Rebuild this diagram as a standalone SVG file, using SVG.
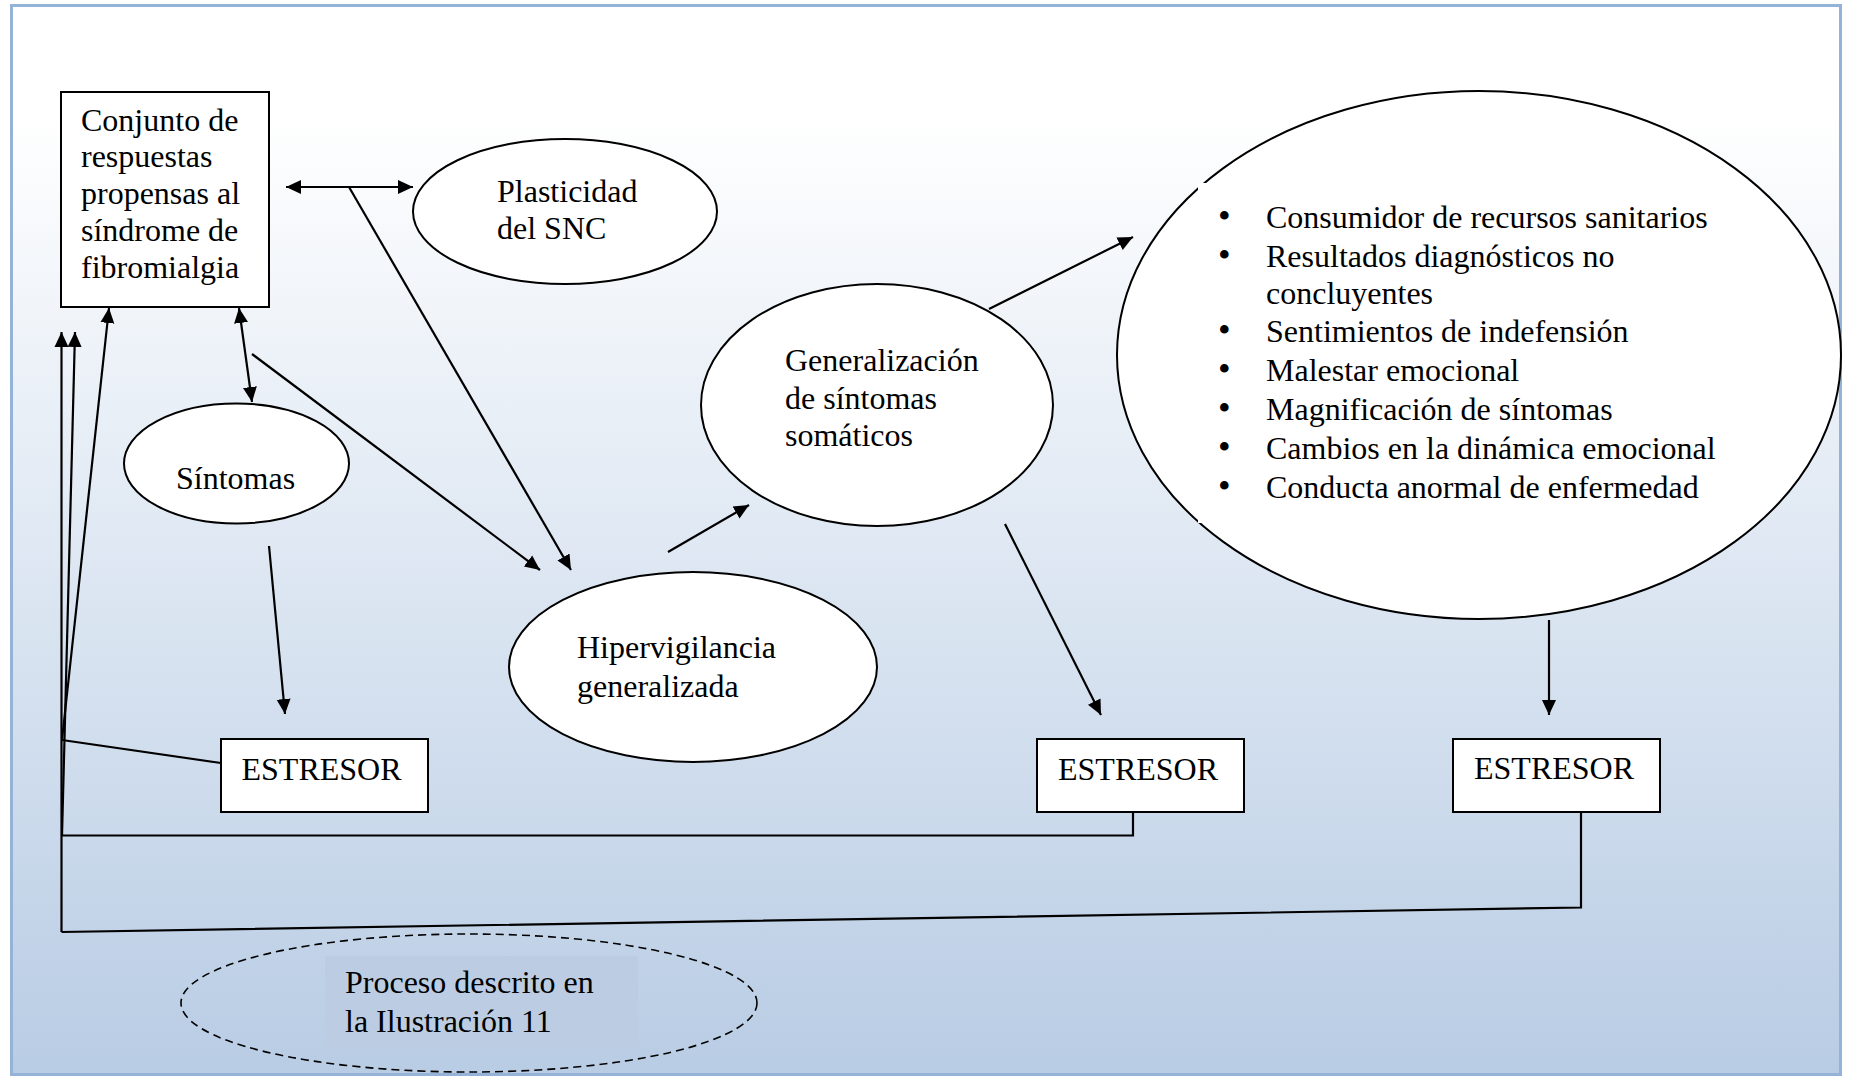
<svg xmlns="http://www.w3.org/2000/svg" width="1861" height="1076" viewBox="0 0 1861 1076">
  <defs>
    <linearGradient id="bg" x1="0" y1="6" x2="0" y2="1076" gradientUnits="userSpaceOnUse">
      <stop offset="0" stop-color="#ffffff"/>
      <stop offset="0.1" stop-color="#ffffff"/>
      <stop offset="1" stop-color="#b8cce4"/>
    </linearGradient>
    <marker id="arrow" markerUnits="userSpaceOnUse" markerWidth="16" markerHeight="16" refX="15" refY="7" orient="auto-start-reverse" viewBox="0 0 16 14">
      <path d="M0,0 L15,7 L0,14 Z" fill="#000"/>
    </marker>
  </defs>
  <style>
    .txt { font-family: "Liberation Serif", "Times New Roman", serif; font-size: 32px; fill: #000; }
    .bul { font-size: 36px; }
    .node { fill: #ffffff; stroke: #000; stroke-width: 2; }
    .link { fill: none; stroke: #000; stroke-width: 2.2; }
    .arr { marker-end: url(#arrow); }
    .both { marker-start: url(#arrow); marker-end: url(#arrow); }
  </style>

  <!-- page frame with gradient fill -->
  <rect x="11.5" y="5.5" width="1829" height="1069" fill="url(#bg)" stroke="#95b3d7" stroke-width="3"/>

  <!-- main response box -->
  <g id="respuestas">
    <rect class="node" x="61" y="92" width="208" height="215"/>
    <text class="txt" x="81" y="131">Conjunto de</text>
    <text class="txt" x="81" y="167">respuestas</text>
    <text class="txt" x="81" y="204">propensas al</text>
    <text class="txt" x="81" y="241">síndrome de</text>
    <text class="txt" x="81" y="278">fibromialgia</text>
  </g>

  <g id="plasticidad">
    <ellipse class="node" cx="565" cy="211.5" rx="152" ry="72.5"/>
    <text class="txt" x="497" y="202">Plasticidad</text>
    <text class="txt" x="497" y="239">del SNC</text>
  </g>

  <g id="sintomas">
    <ellipse class="node" cx="236.5" cy="463.5" rx="112.5" ry="60"/>
    <text class="txt" x="176" y="489">Síntomas</text>
  </g>

  <g id="hipervigilancia">
    <ellipse class="node" cx="693" cy="667" rx="184" ry="95"/>
    <text class="txt" x="577" y="658">Hipervigilancia</text>
    <text class="txt" x="577" y="697">generalizada</text>
  </g>

  <g id="generalizacion">
    <ellipse class="node" cx="877" cy="405" rx="176" ry="121"/>
    <text class="txt" x="785" y="371">Generalización</text>
    <text class="txt" x="785" y="409">de síntomas</text>
    <text class="txt" x="785" y="446">somáticos</text>
  </g>

  <g id="consecuencias">
    <ellipse class="node" cx="1479" cy="355" rx="362" ry="264"/>
    <!-- text frame laid over the ellipse -->
    <rect x="1198" y="183" width="540" height="340" fill="#ffffff"/>
    <text class="txt" y="228"><tspan class="bul" x="1218">•</tspan><tspan x="1266">Consumidor de recursos sanitarios</tspan></text>
    <text class="txt" y="267"><tspan class="bul" x="1218">•</tspan><tspan x="1266">Resultados diagnósticos no</tspan></text>
    <text class="txt" x="1266" y="304">concluyentes</text>
    <text class="txt" y="342"><tspan class="bul" x="1218">•</tspan><tspan x="1266">Sentimientos de indefensión</tspan></text>
    <text class="txt" y="381"><tspan class="bul" x="1218">•</tspan><tspan x="1266">Malestar emocional</tspan></text>
    <text class="txt" y="420"><tspan class="bul" x="1218">•</tspan><tspan x="1266">Magnificación de síntomas</tspan></text>
    <text class="txt" y="459"><tspan class="bul" x="1218">•</tspan><tspan x="1266">Cambios en la dinámica emocional</tspan></text>
    <text class="txt" y="498"><tspan class="bul" x="1218">•</tspan><tspan x="1266">Conducta anormal de enfermedad</tspan></text>
  </g>

  <g id="estresor-1">
    <rect class="node" x="221" y="739" width="207" height="73"/>
    <text class="txt" x="241.5" y="780">ESTRESOR</text>
  </g>
  <g id="estresor-2">
    <rect class="node" x="1037" y="739" width="207" height="73"/>
    <text class="txt" x="1058" y="780">ESTRESOR</text>
  </g>
  <g id="estresor-3">
    <rect class="node" x="1453" y="739" width="207" height="73"/>
    <text class="txt" x="1474" y="779">ESTRESOR</text>
  </g>

  <g id="proceso">
    <ellipse cx="469" cy="1003" rx="288" ry="69" fill="none" stroke="#000" stroke-width="1.6" stroke-dasharray="8 5"/>
    <rect x="325" y="956" width="313" height="91" fill="#bccde3"/>
    <text class="txt" x="345" y="993">Proceso descrito en</text>
    <text class="txt" x="345" y="1032">la Ilustración 11</text>
  </g>

  <g id="connectors">
    <!-- box <-> plasticity, with branch to hypervigilance -->
    <line class="link both" x1="286" y1="187" x2="413" y2="187"/>
    <line class="link arr" x1="349" y1="187" x2="571" y2="570"/>
    <!-- box <-> symptoms -->
    <line class="link both" x1="239" y1="308" x2="252" y2="402"/>
    <line class="link arr" x1="252" y1="354" x2="540" y2="570"/>
    <line class="link arr" x1="269" y1="546" x2="285" y2="714"/>
    <line class="link arr" x1="668" y1="552" x2="749" y2="505"/>
    <line class="link arr" x1="989" y1="309" x2="1133" y2="237"/>
    <line class="link arr" x1="1005" y1="524" x2="1101" y2="715"/>
    <line class="link arr" x1="1549" y1="620" x2="1549" y2="715"/>
    <!-- stressor feedback lines -->
    <polyline class="link" points="221,763 62,740"/>
    <polyline class="link" points="1133,812 1133,835.5 62,835.5"/>
    <polyline class="link" points="1581,812 1581,907.5 61.5,932"/>
    <line class="link arr" x1="61.5" y1="932" x2="61.5" y2="332"/>
    <line class="link arr" x1="62" y1="836" x2="75" y2="332"/>
    <line class="link arr" x1="62" y1="740" x2="109" y2="308"/>
  </g>
</svg>
